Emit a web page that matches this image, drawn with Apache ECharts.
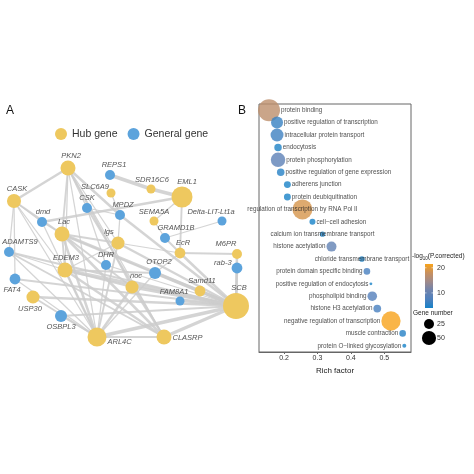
<!DOCTYPE html>
<html><head><meta charset="utf-8">
<script src="https://cdn.jsdelivr.net/npm/echarts@6/dist/echarts.min.js"></script>
<style>html,body{margin:0;padding:0;background:#fff}#c{width:474px;height:474px}</style>
</head><body><div id="c"></div>
<script>
// ---------- Panel A: network data ----------
const geneNames = ['PKN2','REPS1','SDR16C6','SLC6A9','EML1','CASK','CSK','MPDZ','dmd','SEMA5A','Delta-LIT-Lt1a','Lac','GRAMD1B','lgs','ADAMTS9','EcR','M6PR','DHR','EDEM3','OTOP2','rab-3','FAT4','noc','Samd11','FAM8A1','SCB','USP30','OSBPL3','ARL4C','CLASRP'];
const geneType = [0,1,0,0,0,0,1,1,1,0,1,0,1,0,1,0,0,1,0,1,1,1,0,0,1,0,0,1,0,0]; // 0 hub, 1 general
const geneX = [68,110,151,111,182,14,87,120,42,154,222,62,165,118,9,180,237,106,65,155,237,15,132,200,180,236,33,61,97,164];
const geneY = [168,175,189,193,197,201,208,215,222,221,221,234,238,243,252,253,254,265,270,273,268,279,287,291,301,306,297,316,337,337];
const geneDegree = [25,11,9,9,49,22,11,11,11,9,9,25,11,19,11,13,11,11,25,16,13,13,19,13,9,75,19,16,40,25];
const edgeSource = ['REPS1','SDR16C6','EML1','EML1','EML1','Delta-LIT-Lt1a','GRAMD1B','PKN2','PKN2','PKN2','PKN2','PKN2','PKN2','PKN2','PKN2','PKN2','CASK','CASK','CASK','CASK','CASK','CASK','dmd','dmd','Lac','Lac','Lac','Lac','Lac','Lac','Lac','CSK','CSK','CSK','MPDZ','MPDZ','SEMA5A','lgs','lgs','lgs','lgs','ADAMTS9','ADAMTS9','ADAMTS9','ADAMTS9','EcR','EcR','EcR','M6PR','DHR','DHR','EDEM3','EDEM3','EDEM3','EDEM3','EDEM3','OTOP2','OTOP2','rab-3','FAT4','FAT4','noc','noc','noc','Samd11','FAM8A1','USP30','USP30','OSBPL3','OSBPL3','ARL4C','CLASRP','ARL4C','SLC6A9'];
const edgeTarget = ['SDR16C6','EML1','dmd','EcR','SEMA5A','GRAMD1B','EcR','CASK','Lac','EDEM3','ARL4C','CSK','MPDZ','noc','lgs','CLASRP','dmd','Lac','ADAMTS9','FAT4','ARL4C','EDEM3','Lac','ARL4C','SCB','EDEM3','ARL4C','CLASRP','lgs','OTOP2','noc','MPDZ','CLASRP','DHR','SCB','lgs','GRAMD1B','SCB','ARL4C','EcR','EDEM3','SCB','CLASRP','ARL4C','EDEM3','SCB','M6PR','OTOP2','SCB','SCB','ARL4C','SCB','ARL4C','CLASRP','noc','OTOP2','SCB','ARL4C','SCB','SCB','ARL4C','SCB','ARL4C','CLASRP','SCB','SCB','SCB','ARL4C','SCB','ARL4C','SCB','SCB','CLASRP','MPDZ'];
const edgeWeight = [3,3,2,1.5,1,1,1.5,2,1.5,1,1,1,2,1.5,1,1,1,1.5,1,1,1,1,1,1,2.5,1.5,2,2,1.5,1,1.5,1,1.5,1,2,1,1,2,1.5,1,1,1.5,1.5,1,1,2,1.5,1,2,1,1,3,2,2,1.5,1.5,2.5,1,2,1.5,1,2.5,2,1.5,2,1.5,2,1.5,1.5,1,3,2.5,1.5,1];
const geneTypeNames = ['Hub gene','General gene'];

// ---------- Panel B: enrichment data ----------
const goTerms = ['protein binding','positive regulation of transcription','intracellular protein transport','endocytosis','protein phosphorylation','positive regulation of gene expression','adherens junction','protein deubiquitination','regulation of transcription by RNA Pol II','cell\u2212cell adhesion','calcium ion transmembrane transport','histone acetylation','chloride transmembrane transport','protein domain specific binding','positive regulation of endocytosis','phospholipid binding','histone H3 acetylation','negative regulation of transcription','muscle contraction','protein O\u2212linked glycosylation'];
const richFactor = [0.155,0.179,0.179,0.182,0.182,0.19,0.21,0.21,0.255,0.285,0.315,0.342,0.433,0.448,0.46,0.464,0.479,0.52,0.555,0.56];
const negLogP = [17,6,6.5,4.5,9,5,4.2,4.2,19,4,4.5,9.5,4.5,7,4.2,8,7,21.5,5,4];
const geneNumber = [121,36,42,14,52,14,12,12,100,9,7,25,8,11,2,23,15,93,11,4];
const richTicks = [0.2,0.3,0.4,0.5];
const colorTicks = [10,20];
const sizeLegend = [25,50];

// ---------- styles ----------
const FONT = 'Liberation Sans, Arial, sans-serif';
const hubColor = '#eec85f', genColor = '#5ca3dc';
const colorStops = ['#1682c8','#4f80bd','#6f83ad','#a08a8a','#c8905e','#f8a31a'];
const cMin = 4, cMax = 21.5;
const bar = {x:425, y:264, w:8, h:44};
const nodeLabelStyle = {
  'SLC6A9':{position:'inside',offset:[-16,-6]},
  'rab-3':{position:'left',offset:[0,-5],distance:0},
  'FAT4':{position:'bottom',offset:[-3,0]},
  'USP30':{position:'bottom',offset:[-3,0]},
  'OSBPL3':{position:'bottom',offset:[0,0]},
  'ARL4C':{position:'right',offset:[0,5]},
  'CLASRP':{position:'right',offset:[0,1]}
};
const nodeLabelDx = {'PKN2':3,'REPS1':4,'SDR16C6':1,'EML1':5,'CASK':3,'MPDZ':3,'dmd':1,'Delta-LIT-Lt1a':-11,'Lac':2,'GRAMD1B':11,'lgs':-9,'ADAMTS9':11,'EcR':3,'M6PR':-11,'EDEM3':1,'OTOP2':4,'noc':4,'Samd11':2,'FAM8A1':-6,'SCB':3};
const termLabelStyle = {8:{position:'inside',offset:[43,0]},10:{position:'inside',offset:[25,0]},12:{position:'inside',offset:[-46,0]}};
const rightLabelTerms = [0,1,2,3,4,5,6,7,9];
const sizeOf = n => 2 * Math.sqrt(n);

const nodes = geneNames.map((g,i) => {
  const ls = nodeLabelStyle[g] || {position:'top', offset:[nodeLabelDx[g]||0,0]};
  return {
    name: g, value: [geneX[i], geneY[i]], category: geneType[i],
    symbolSize: 3 * Math.sqrt(geneDegree[i]),
    label: Object.assign({show:true, distance:1}, ls)
  };
});
const links = edgeSource.map((s,i) => ({source:s, target:edgeTarget[i], lineStyle:{width:edgeWeight[i]*1.25}}));

const scatterData = goTerms.map((t,i) => {
  let ls = termLabelStyle[i] || (rightLabelTerms.includes(i) ? {position:'right'} : {position:'left'});
  return {name:t, value:[richFactor[i], t, negLogP[i], geneNumber[i]], label:Object.assign({show:true, distance:1}, ls)};
});

const graphics = [
  {type:'text', left:6, top:105, style:{text:'A', font:'12px '+FONT, fill:'#111'}},
  {type:'text', left:238, top:105, style:{text:'B', font:'12px '+FONT, fill:'#111'}},
  {type:'text', left:412, top:253, style:{text:'-log{s|10}(P.corrected)', fill:'#222', font:'6.5px '+FONT, rich:{s:{fontSize:4.5, verticalAlign:'bottom', padding:[4,0,0,0]}}}},
  {type:'rect', shape:{x:bar.x, y:bar.y, width:bar.w, height:bar.h},
   style:{fill:new echarts.graphic.LinearGradient(0,1,0,0, colorStops.map((c,k)=>({offset:k/(colorStops.length-1), color:c})))}},
  {type:'text', left:413, top:310, style:{text:'Gene number', fill:'#222', font:'6.5px '+FONT}}
];
colorTicks.forEach(v => {
  const y = bar.y + (cMax - v) / (cMax - cMin) * bar.h;
  graphics.push({type:'line', shape:{x1:bar.x, y1:y, x2:bar.x+1.5, y2:y}, style:{stroke:'#fff', lineWidth:0.6}});
  graphics.push({type:'line', shape:{x1:bar.x+bar.w-1.5, y1:y, x2:bar.x+bar.w, y2:y}, style:{stroke:'#fff', lineWidth:0.6}});
  graphics.push({type:'text', x:437, y:y, style:{text:String(v), fill:'#333', font:'7px '+FONT, verticalAlign:'middle'}});
});
sizeLegend.forEach((n,k) => {
  const cy = 324 + k * 14;
  graphics.push({type:'circle', shape:{cx:429, cy:cy, r:sizeOf(n)/2}, style:{fill:'#000'}});
  graphics.push({type:'text', x:437, y:cy, style:{text:String(n), fill:'#333', font:'7px '+FONT, verticalAlign:'middle'}});
});

const chart = echarts.init(document.getElementById('c'), null, {renderer:'canvas'});
chart.setOption({
  animation:false,
  backgroundColor:'#fff',
  textStyle:{fontFamily:FONT},
  legend:{data:geneTypeNames, left:50, top:123, icon:'circle', itemWidth:12, itemHeight:12, itemGap:10, textStyle:{fontSize:10.5, color:'#333', fontFamily:FONT}},
  grid:[
    {left:0, top:0, width:474, height:474, show:false},
    {left:259, top:104, width:152, height:248, show:true, borderColor:'#666', borderWidth:1, backgroundColor:'transparent'}
  ],
  xAxis:[
    {gridIndex:0, type:'value', min:0, max:474, show:false},
    {gridIndex:1, type:'value', min:0.125, max:0.58, splitLine:{show:false},
     axisLine:{show:true, lineStyle:{color:'#666'}},
     axisTick:{show:true, customValues:richTicks, length:2, lineStyle:{color:'#666'}},
     axisLabel:{customValues:richTicks, fontSize:7, color:'#333', margin:3, formatter:v=>v.toFixed(1)},
     name:'Rich factor', nameLocation:'middle', nameGap:15, nameTextStyle:{fontSize:8, color:'#222'}}
  ],
  yAxis:[
    {gridIndex:0, type:'value', min:0, max:474, inverse:true, show:false},
    {gridIndex:1, type:'category', data:goTerms, inverse:true, axisLine:{show:false}, axisTick:{show:false}, axisLabel:{show:false}, splitLine:{show:false}}
  ],
  visualMap:{type:'continuous', show:false, seriesIndex:1, dimension:2, min:cMin, max:cMax, inRange:{color:colorStops}},
  graphic:graphics,
  series:[
    {type:'graph', coordinateSystem:'cartesian2d', xAxisIndex:0, yAxisIndex:0, layout:'none',
     categories:[{name:geneTypeNames[0], itemStyle:{color:hubColor}}, {name:geneTypeNames[1], itemStyle:{color:genColor}}],
     data:nodes, links:links, edgeSymbol:['none','none'],
     lineStyle:{color:'#cccccc', opacity:0.85, curveness:0},
     label:{fontSize:7.5, fontStyle:'italic', color:'#555', fontFamily:FONT},
     emphasis:{disabled:true}},
    {type:'scatter', xAxisIndex:1, yAxisIndex:1, data:scatterData, clip:true,
     symbolSize:v=>sizeOf(v[3]),
     label:{fontSize:6.3, color:'#222', formatter:'{b}', fontFamily:FONT},
     labelLayout:{hideOverlap:false}, emphasis:{disabled:true}}
  ]
});
</script></body></html>
